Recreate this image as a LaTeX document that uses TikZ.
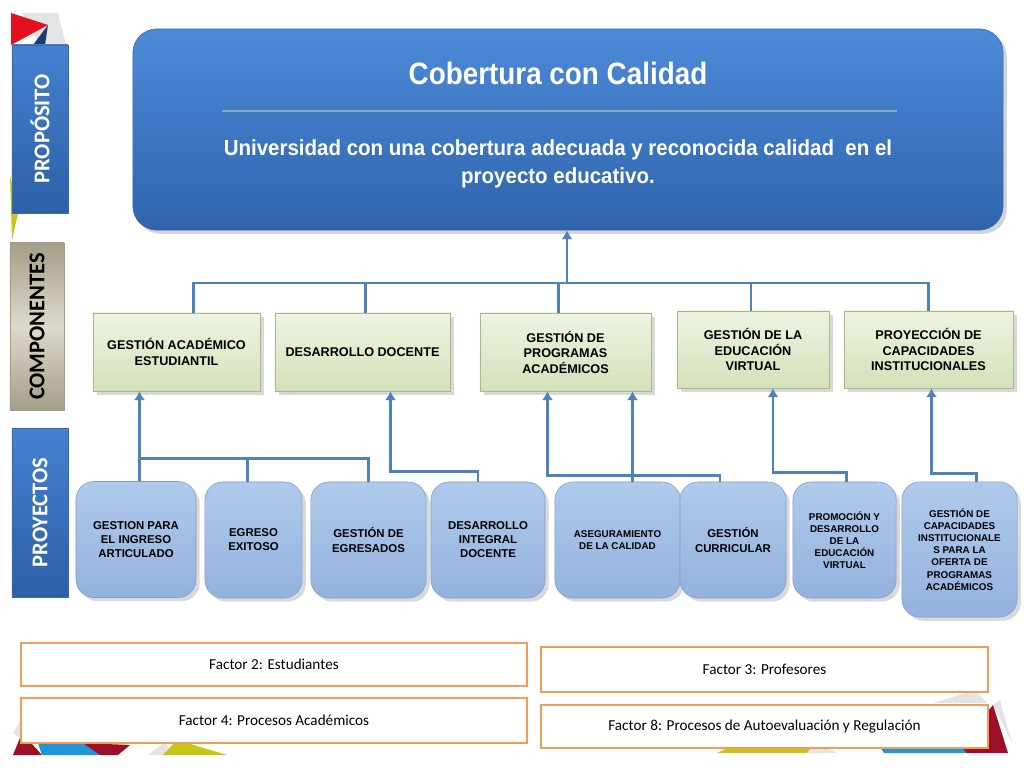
\documentclass[tikz,border=0pt]{standalone}
\usepackage{fontspec}
\setmainfont{Liberation Sans}
\newfontfamily\calibri{Carlito}
\usepackage{xcolor}
\usetikzlibrary{arrows.meta,calc,positioning,shadows}
\definecolor{goaltop}{HTML}{4C8AD9}
\definecolor{goalbot}{HTML}{2F64AC}
\definecolor{goalline}{HTML}{3A69AE}
\definecolor{tabtop}{HTML}{4481D0}
\definecolor{tabbot}{HTML}{2D5FA6}
\definecolor{greymid}{HTML}{DEDACB}
\definecolor{greyedge}{HTML}{A39E88}
\definecolor{comptop}{HTML}{EEF4E1}
\definecolor{compbot}{HTML}{D4E1BA}
\definecolor{compline}{HTML}{A9B78F}
\definecolor{projtop}{HTML}{AFCAEC}
\definecolor{projbot}{HTML}{93B2DD}
\definecolor{projline}{HTML}{7D9DCC}
\definecolor{linkblue}{HTML}{4F81BD}
\definecolor{factorline}{HTML}{F39C55}
\definecolor{sepgrey}{HTML}{8EA6C8}
\definecolor{decored}{HTML}{E3101E}
\definecolor{decomaroon}{HTML}{9B1028}
\definecolor{deconavy}{HTML}{1F3C70}
\definecolor{decoblue}{HTML}{1E96D8}
\definecolor{decoyellow}{HTML}{C4C714}
\definecolor{decogrey}{HTML}{E4E4E4}

\begin{document}
\begin{tikzpicture}[
  x=0.025cm, y=-0.025cm,
  goal/.style={draw=goalline, rounded corners=0.6cm, top color=goaltop,
               bottom color=goalbot, minimum width=21.75cm, minimum height=5.03cm,
               drop shadow={opacity=0.35}},
  sidetab/.style={rotate=90, minimum width=4.2cm, minimum height=1.4cm,
                  inner sep=0pt, font=\calibri\bfseries\fontsize{16}{18}\selectfont},
  bluetab/.style={sidetab, draw=goalline, top color=tabtop, bottom color=tabbot,
                  text=white},
  greytab/.style={sidetab, draw=greyedge, top color=greyedge, bottom color=greyedge,
                  middle color=greymid, text=black},
  component/.style={draw=compline, top color=comptop, bottom color=compbot,
                    align=center, inner sep=2pt, minimum height=1.95cm,
                    font=\bfseries\fontsize{9}{11}\selectfont,
                    drop shadow={opacity=0.3}},
  project/.style={draw=projline, rounded corners=0.45cm, top color=projtop,
                  bottom color=projbot, align=center, inner sep=1pt,
                  minimum height=2.9cm, font=\bfseries\fontsize{8.1}{10}\selectfont,
                  drop shadow={opacity=0.3}},
  small/.style={font=\bfseries\fontsize{7}{8.6}\selectfont},
  factor/.style={draw=factorline, line width=1.6pt, fill=white,
                 font=\calibri\fontsize{10.8}{12}\selectfont},
  link/.style={draw=linkblue, line width=2pt},
  feed/.style={link, -{Latex[length=2.2mm, width=2.8mm]}}
]
  \useasboundingbox (0,0) rectangle (1024,768);

  % Corner decorations.
  \fill[decogrey] (22,13) -- (58,13) -- (66,45) -- (40,45) -- cycle;
  \fill[decored] (11,13) -- (48,25) -- (11,45) -- cycle;
  \fill[deconavy] (33,45) -- (48,25) -- (45,45) -- cycle;
  \fill[decoyellow] (10,175) -- (18,213) -- (12,240) -- cycle;
  \fill[decogrey] (13,733) -- (22,718) -- (30,745) -- cycle;
  \fill[decomaroon] (13,755) -- (22,733) -- (42,755) -- cycle;
  \fill[decoblue] (38,743) -- (100,743) -- (100,755) -- (42,755) -- cycle;
  \fill[decomaroon] (83,743) -- (130,745) -- (118,755) -- (100,755) -- cycle;
  \fill[decogrey] (148,755) -- (165,742) -- (173,755) -- cycle;
  \fill[decoyellow] (163,755) -- (177,740) -- (227,755) -- cycle;
  \fill[decoyellow] (717,753) -- (745,740) -- (805,740) -- (817,753) -- cycle;
  \fill[decogrey] (807,753) -- (815,742) -- (837,753) -- cycle;
  \fill[decogrey] (933,703) -- (975,690) -- (987,703) -- cycle;
  \fill[decogrey] (993,705) -- (1000,700) -- (1012,743) -- cycle;
  \fill[decomaroon] (873,740) -- (893,740) -- (885,753) -- cycle;
  \fill[decoblue] (880,746) -- (967,746) -- (967,753) -- (884,753) -- cycle;
  \fill[decomaroon] (960,746) -- (993,705) -- (1008,753) -- (967,753) -- cycle;

  % Side tabs.
  \node[bluetab] (tab-purpose) at (40,129) {PROPÓSITO};
  \node[greytab, minimum width=4.18cm, minimum height=1.35cm] (tab-comp) at (37,326.5) {COMPONENTES};
  \node[bluetab, minimum width=4.22cm] (tab-proj) at (40,512.5) {PROYECTOS};

  % Purpose.
  \node[goal] (goal) at (568,129.5) {};
  \node[text=white, font=\bfseries\fontsize{22}{24}\selectfont\addfontfeature{FakeStretch=0.9}] (goal-title) at (558,73)
    {Cobertura con Calidad};
  \draw[sepgrey, line width=1.2pt] (222,111) -- (897,111);
  \node[text=white, align=center, font=\bfseries\fontsize{15.5}{20}\selectfont\addfontfeature{FakeStretch=0.94}] (goal-text) at (558,164)
    {Universidad con una cobertura adecuada y reconocida calidad\ \ en el\\proyecto educativo.};

  % Components.
  \node[component, minimum width=4.18cm] (gae) at (176.5,352) {GESTIÓN ACADÉMICO\\ESTUDIANTIL};
  \node[component, minimum width=4.38cm] (dd) at (362.5,352) {DESARROLLO DOCENTE};
  \node[component, minimum width=4.28cm] (gpa) at (565.5,352) {GESTIÓN DE\\PROGRAMAS\\ACADÉMICOS};
  \node[component, minimum width=3.8cm, minimum height=1.93cm] (gev) at (753,349.5) {GESTIÓN DE LA\\EDUCACIÓN\\VIRTUAL};
  \node[component, minimum width=4.23cm, minimum height=1.93cm] (pci) at (928.5,349.5) {PROYECCIÓN DE\\CAPACIDADES\\INSTITUCIONALES};

  % Projects.
  \node[project, minimum width=3.0cm] (p1) at (136,539.5) {GESTION PARA\\EL INGRESO\\ARTICULADO};
  \node[project, minimum width=2.43cm] (p2) at (253.5,540) {EGRESO\\EXITOSO};
  \node[project, minimum width=2.88cm] (p3) at (368.5,540) {GESTIÓN DE\\EGRESADOS};
  \node[project, minimum width=2.85cm] (p4) at (488,540) {DESARROLLO\\INTEGRAL\\DOCENTE};
  \node[project, small, minimum width=3.13cm] (p5) at (617.5,540) {ASEGURAMIENTO\\DE LA CALIDAD};
  \node[project, minimum width=2.65cm] (p6) at (733,540) {GESTIÓN\\CURRICULAR};
  \node[project, small, minimum width=2.58cm] (p7) at (844.5,540) {PROMOCIÓN Y\\DESARROLLO\\DE LA\\EDUCACIÓN\\VIRTUAL};
  \node[project, small, minimum width=2.88cm, minimum height=3.38cm] (p8) at (959.5,549.5)
    {GESTIÓN DE\\CAPACIDADES\\INSTITUCIONALE\\S PARA LA\\OFERTA DE\\PROGRAMAS\\ACADÉMICOS};

  % Components feed the purpose.
  \coordinate (hub) at (567,283);
  \draw[link] ($(gae.north)+(17,0)$) |- (hub);
  \draw[link] ($(dd.north)+(3,0)$) |- (hub);
  \draw[link] ($(gpa.north)+(-7,0)$) |- (hub);
  \draw[link] ($(gev.north)+(-2,0)$) |- (hub);
  \draw[link] (pci.north) |- (hub);
  \draw[feed] (hub) -- (hub |- goal.south);

  % Projects feed the components.
  \coordinate (gae-in) at ($(gae.south)+(-37,0)$);
  \coordinate (gae-bus) at ($(gae-in)+(0,67)$);
  \draw[link] ($(p2.north)+(-6,0)$) |- (gae-bus);
  \draw[link] (p3.north) |- (gae-bus);
  \draw[feed] (p1.north -| gae-in) -- (gae-in);
  \coordinate (dd-in) at ($(dd.south)+(28,0)$);
  \draw[feed] ($(p4.north)+(-10,0)$) |- ($(dd-in)+(0,80)$) -- (dd-in);
  \coordinate (gpa-l) at ($(gpa.south)+(-18,0)$);
  \coordinate (gpa-r) at ($(gpa.south)+(67,0)$);
  \draw[feed] (p5.north -| gpa-r) -- (gpa-r);
  \draw[feed] ($(p6.north)+(-13,0)$) |- ($(gpa-l)+(0,84)$) -- (gpa-l);
  \coordinate (gev-in) at ($(gev.south)+(20,0)$);
  \draw[feed] ($(p7.north)+(2,0)$) |- ($(gev-in)+(0,84)$) -- (gev-in);
  \coordinate (pci-in) at ($(pci.south)+(3,0)$);
  \draw[feed] ($(p8.north)+(17,0)$) |- ($(pci-in)+(0,85)$) -- (pci-in);

  % Accreditation factors.
  \node[factor, minimum width=12.65cm, minimum height=1.08cm] (f2) at (274,664.5) {Factor 2: Estudiantes};
  \node[factor, minimum width=11.18cm, minimum height=1.13cm] (f3) at (764.5,669.5) {Factor 3: Profesores};
  \node[factor, minimum width=12.65cm, minimum height=1.13cm] (f4) at (274,720.5) {Factor 4: Procesos Académicos};
  \node[factor, minimum width=11.18cm, minimum height=1.08cm] (f8) at (764.5,726.5) {Factor 8: Procesos de Autoevaluación y Regulación};
\end{tikzpicture}
\end{document}
